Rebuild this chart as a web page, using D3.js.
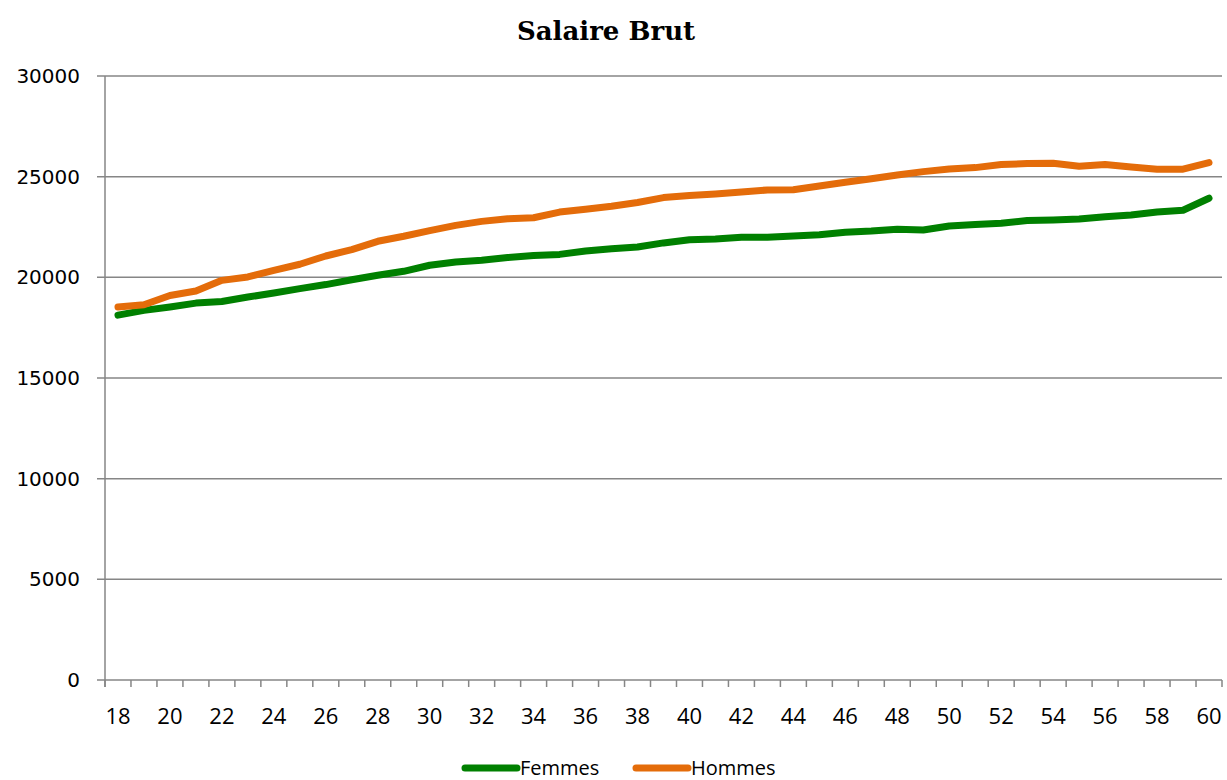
<!DOCTYPE html>
<html>
<head>
<meta charset="utf-8">
<script src="https://cdn.jsdelivr.net/npm/d3@7"></script>
<style>
  body { margin: 0; background: #fff; }
  svg { display: block; }
</style>
</head>
<body>
<div id="chart"></div>
<script>
const WIDTH = 1227;
const HEIGHT = 780;
const MARGIN = { top: 76, right: 5, bottom: 100, left: 105 };

const ages = d3.range(18, 61);
const femmes = [18120, 18360, 18530, 18720, 18800, 19020, 19220, 19440, 19640, 19880, 20100, 20300,
  20600, 20760, 20850, 20980, 21090, 21140, 21310, 21420, 21510, 21710, 21870, 21900, 21990, 21990,
  22050, 22120, 22240, 22300, 22390, 22350, 22550, 22620, 22690, 22820, 22850, 22900, 23010, 23100,
  23250, 23330, 23930];
const hommes = [18530, 18640, 19100, 19320, 19850, 20020, 20350, 20650, 21060, 21380, 21790, 22040,
  22320, 22580, 22780, 22910, 22960, 23240, 23380, 23530, 23720, 23960, 24060, 24140, 24240, 24340,
  24350, 24540, 24720, 24900, 25080, 25250, 25380, 25450, 25600, 25650, 25670, 25520, 25600, 25480,
  25370, 25370, 25700];
const yTicks = [0, 5000, 10000, 15000, 20000, 25000, 30000];

const series = [
  { name: 'Femmes', values: femmes, color: '#008000' },
  { name: 'Hommes', values: hommes, color: '#e46c0a' }
];

const grey = '#868686';

const svg = d3.select('#chart').append('svg')
  .attr('width', WIDTH)
  .attr('height', HEIGHT);

const innerW = WIDTH - MARGIN.left - MARGIN.right;
const innerH = HEIGHT - MARGIN.top - MARGIN.bottom;

const x = d3.scaleBand().domain(ages).range([0, innerW]);
const y = d3.scaleLinear().domain([0, 30000]).range([innerH, 0]);

const g = svg.append('g').attr('transform', `translate(${MARGIN.left},${MARGIN.top})`);

// gridlines + y ticks
g.append('g')
  .selectAll('line')
  .data(yTicks)
  .enter().append('line')
  .attr('x1', -8)
  .attr('x2', innerW)
  .attr('y1', (d) => y(d))
  .attr('y2', (d) => y(d))
  .attr('stroke', grey)
  .attr('stroke-width', 1.5);

g.append('g')
  .selectAll('text')
  .data(yTicks)
  .enter().append('text')
  .attr('x', -25)
  .attr('y', (d) => y(d))
  .attr('dy', '0.35em')
  .attr('text-anchor', 'end')
  .attr('font-family', 'DejaVu Sans, Verdana, sans-serif')
  .attr('font-size', 20)
  .attr('fill', '#000')
  .text((d) => d);

// y axis line
g.append('line')
  .attr('x1', 0).attr('x2', 0)
  .attr('y1', 0).attr('y2', innerH + 7)
  .attr('stroke', grey)
  .attr('stroke-width', 1.5);

// x axis: ticks between categories
const bounds = ages.map((a) => x(a)).concat([innerW]);
g.append('g')
  .selectAll('line')
  .data(bounds)
  .enter().append('line')
  .attr('x1', (d) => d).attr('x2', (d) => d)
  .attr('y1', innerH).attr('y2', innerH + 7)
  .attr('stroke', grey)
  .attr('stroke-width', 1.5);

g.append('g')
  .selectAll('text')
  .data(ages.filter((a) => a % 2 === 0))
  .enter().append('text')
  .attr('x', (d) => x(d) + x.bandwidth() / 2)
  .attr('y', innerH + 44)
  .attr('text-anchor', 'middle')
  .attr('font-family', 'Open Sans, Noto Sans, sans-serif')
  .attr('font-size', 22)
  .attr('fill', '#000')
  .text((d) => d);

// lines
const line = d3.line()
  .x((d, i) => x(ages[i]) + x.bandwidth() / 2)
  .y((d) => y(d));

g.append('g')
  .selectAll('path')
  .data(series)
  .enter().append('path')
  .attr('d', (d) => line(d.values))
  .attr('fill', 'none')
  .attr('stroke', (d) => d.color)
  .attr('stroke-width', 7)
  .attr('stroke-linejoin', 'round')
  .attr('stroke-linecap', 'round');

// title
svg.append('text')
  .attr('x', 606)
  .attr('y', 40)
  .attr('text-anchor', 'middle')
  .attr('font-family', 'DejaVu Serif, Liberation Serif, serif')
  .attr('font-weight', 'bold')
  .attr('font-size', 26)
  .text('Salaire Brut');

// legend
const legendX = [465, 636];
const leg = svg.append('g')
  .selectAll('g')
  .data(series)
  .enter().append('g')
  .attr('transform', (d, i) => `translate(${legendX[i]},768)`);

leg.append('line')
  .attr('x1', 0).attr('x2', 52)
  .attr('stroke', (d) => d.color)
  .attr('stroke-width', 7)
  .attr('stroke-linecap', 'round');

leg.append('text')
  .attr('x', 55)
  .attr('dy', '0.35em')
  .attr('font-family', 'Open Sans, Noto Sans, sans-serif')
  .attr('font-size', 20)
  .text((d) => d.name);
</script>
</body>
</html>
